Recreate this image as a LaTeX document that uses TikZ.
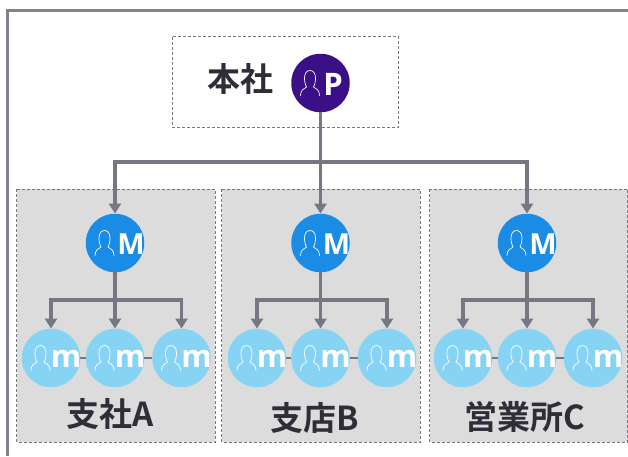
\documentclass[tikz,border=0pt]{standalone}
\usepackage{fontspec}
\setmainfont{Noto Sans CJK JP}[BoldFont={* Bold}]
\newfontfamily\lat{Open Sans}[BoldFont={* Bold}]
\definecolor{conn}{HTML}{777783}
\definecolor{frameC}{HTML}{82828C}
\definecolor{ink}{HTML}{2E2E38}
\definecolor{pcol}{HTML}{3B1087}
\definecolor{mgr}{HTML}{1A8CE6}
\definecolor{mem}{HTML}{87D3F3}
\definecolor{boxg}{HTML}{DCDCDC}
\usetikzlibrary{arrows.meta}
\tikzset{
  person/.pic={\draw[white,line width=.7pt,line cap=round,line join=round]
    (-20,12.5) .. controls (-20,7.5) and (-17,5.5) .. (-14,4)
    .. controls (-15.5,1.5) and (-16,-2.5) .. (-16,-5)
    .. controls (-16,-10) and (-13.5,-12.5) .. (-10.5,-12.5)
    .. controls (-7.5,-12.5) and (-5,-10) .. (-5,-5)
    .. controls (-5,-2.5) and (-5.5,1.5) .. (-7,4)
    .. controls (-4,5.5) and (-1,7.5) .. (-1,12.5);},
  dot/.style={circle,minimum size=58.5pt,inner sep=0pt,fill=#1},
  ltr/.style={text=white,inner sep=0pt,font=\lat\fontsize{#1}{#1}\selectfont\bfseries},
  lbl/.style={text=ink,inner sep=0pt,font=\fontsize{33}{36}\selectfont\bfseries},
  link/.style={draw=conn,line width=3.05pt},
  arr/.style={link,-{Triangle[length=10pt,width=12pt]}},
  sib/.style={draw=conn,line width=2pt},
  dbox/.style={draw=conn,line width=.8pt,densely dashed,fill=#1},
  dbox/.default=white
}
\begin{document}
\begin{tikzpicture}[x=1pt,y=-1pt]
\useasboundingbox (0,0) rectangle (628,456);
\fill[white] (0,0) rectangle (628,456);
\draw[frameC,line width=2.2pt] (7.5,456) -- (7.5,10.5) -- (628,10.5);
\draw[dbox] (172.5,36.5) rectangle (398.5,127);
\draw[dbox=boxg] (16.5,189) rectangle (215,442);
\draw[dbox=boxg] (221.5,189) rectangle (420,442);
\draw[dbox=boxg] (429.5,189) rectangle (627.5,442);

\node[lbl] (hq) at (240,79) {本社};
\node[lbl] (la) at (110,414) {支社A};
\node[lbl] (lb) at (315,418) {支店B};
\node[lbl] (lc) at (525,417) {営業所C};

\coordinate (bus) at (320.5,162);
\foreach \n/\x in {a/115,b/320.5,c/527}{
  \coordinate (bus\n) at (\x,300);
}

\node[dot=pcol] (P) at (320.5,83) {};
\pic at (P) {person};
\node[ltr=31] (Pl) at (333,84.5) {P};

\foreach \n/\x/\xa/\xc in {a/115/51/181.5,b/320.5/257/387,c/527/463/593}{
  \node[dot=mgr] (M\n) at (\x,243) {};
  \pic at (M\n) {person};
  \node[ltr=29] (Ml\n) at (\x+16,244) {M};
  \node[dot=mem] (m\n1) at (\xa,358) {};
  \node[dot=mem] (m\n2) at (\x,358) {};
  \node[dot=mem] (m\n3) at (\xc,358) {};
  \draw[sib] (m\n1) -- (m\n2);
  \draw[sib] (m\n2) -- (m\n3);
  \foreach \i in {1,2,3}{
    \pic at (m\n\i) {person};
    \node[ltr=31,yshift=-1pt] (ml\n\i) at ([xshift=15pt]m\n\i) {m};
  }
  \draw[link] (M\n.south) -- (bus\n);
  \draw[arr] (bus\n) -| (m\n1.north);
  \draw[arr] (bus\n) -- (m\n2.north);
  \draw[arr] (bus\n) -| (m\n3.north);
}
\draw[link] (P.south) -- (bus);
\draw[arr] (bus) -| (Ma.north);
\draw[arr] (bus) -- (Mb.north);
\draw[arr] (bus) -| (Mc.north);
\end{tikzpicture}
\end{document}
